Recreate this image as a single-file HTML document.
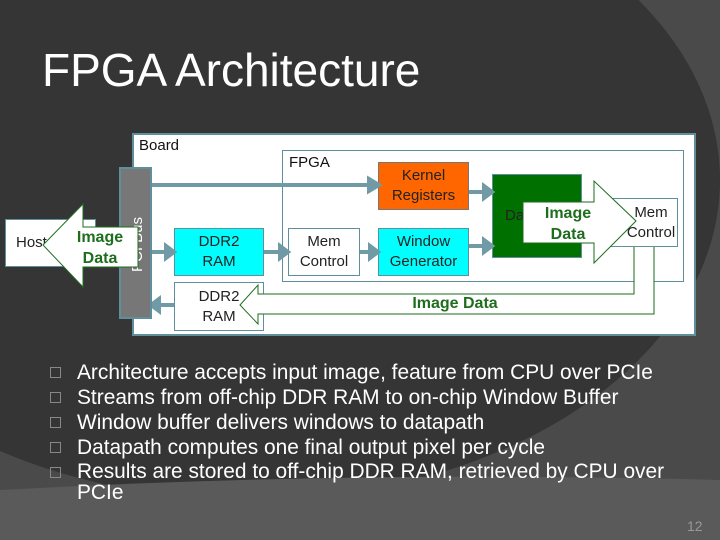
<!DOCTYPE html>
<html><head><style>
body{margin:0;width:720px;height:540px;overflow:hidden;background:#4a4a4a;font-family:"Liberation Sans",sans-serif;position:relative}
.a{position:absolute}
.box{position:absolute;box-sizing:border-box;border:1px solid #5f8f9c;text-align:center;font-size:15px;color:#222;display:flex;align-items:center;justify-content:center;line-height:20px}
.bl{position:absolute;left:77px;font-size:20.9px;color:#fff;white-space:nowrap}
.sq{position:absolute;left:50px;width:9px;height:9px;border:1px solid #888}
</style></head><body>
<svg class="a" style="left:0;top:0" width="720" height="540">
<ellipse cx="250" cy="180" rx="470" ry="320" fill="#353535"/>
<path d="M0 490 Q360 470 720 480 L720 540 L0 540Z" fill="#5a5a5a"/>
</svg>
<div class="a" style="left:42px;top:43px;font-size:46px;color:#fff">FPGA Architecture</div>

<div class="a" style="left:132px;top:133px;width:564px;height:203px;background:#fff;border:2px solid #5f8f9c;box-sizing:border-box"></div>
<div class="a" style="left:139px;top:137px;font-size:15px;color:#111">Board</div>
<div class="a" style="left:282px;top:150px;width:402px;height:132px;border:1px solid #5f8f9c;box-sizing:border-box"></div>
<div class="a" style="left:289px;top:154px;font-size:15px;color:#111">FPGA</div>

<div class="box" style="left:5px;top:219px;width:91px;height:48px;background:#fff;justify-content:flex-start;padding-left:10px;font-size:15px">Host</div>

<div class="box" style="left:174px;top:228px;width:90px;height:48px;background:#00ffff">DDR2<br>RAM</div>
<div class="box" style="left:174px;top:282px;width:90px;height:49px;background:#fff">DDR2<br>RAM</div>
<div class="box" style="left:288px;top:228px;width:72px;height:48px;background:#fff">Mem<br>Control</div>
<div class="box" style="left:378px;top:228px;width:91px;height:48px;background:#00ffff">Window<br>Generator</div>
<div class="box" style="left:378px;top:162px;width:91px;height:48px;background:#ff6600;border-color:#777">Kernel<br>Registers</div>
<div class="box" style="left:492px;top:174px;width:90px;height:84px;background:#007000;justify-content:flex-start;padding-left:12px;font-size:15px">Datapath</div>
<div class="box" style="left:610px;top:198px;width:68px;height:49px;background:#fff;padding-left:14px">Mem<br>Control</div>

<svg class="a" style="left:0;top:0" width="720" height="540">
<g stroke="#6f9aa6" stroke-width="4" fill="#6f9aa6">
<line x1="151" y1="185" x2="372" y2="185"/><path d="M369 179 L379 185 L369 191Z"/>
<line x1="469" y1="192" x2="486" y2="192"/><path d="M484 186 L492 192 L484 198Z"/>
<line x1="469" y1="246" x2="486" y2="246"/><path d="M484 240 L492 246 L484 252Z"/>
<line x1="151" y1="252" x2="168" y2="252"/><path d="M166 246 L174 252 L166 258Z"/>
<line x1="264" y1="252" x2="282" y2="252"/><path d="M280 246 L288 252 L280 258Z"/>
<line x1="360" y1="252" x2="372" y2="252"/><path d="M370 246 L378 252 L370 258Z"/>
<line x1="174" y1="305" x2="157" y2="305"/><path d="M159 299 L151 305 L159 311Z"/>
</g>
<path d="M654 247 L654 314 L258 314 L258 324 L240 305 L258 285 L258 294 L634 294 L634 247" fill="#fff" stroke="#1e6e1e" stroke-width="1"/>
<rect x="120" y="168" width="31" height="150" fill="#777" stroke="#5f8f9c" stroke-width="2"/>
<text transform="translate(142,272) rotate(-90)" fill="#fff" font-size="15" font-family="Liberation Sans">PCI Bus</text>
<path d="M138 227 L83 227 L83 204 L43 245 L83 287 L83 267 L138 267Z" fill="#fff" stroke="#1e6e1e"/>
<path d="M523 202 L594 202 L594 181 L636 221 L594 263 L594 243 L523 243Z" fill="#fff" stroke="#1e6e1e"/>
<g fill="#1e6e1e" font-weight="bold" font-size="16" font-family="Liberation Sans" text-anchor="middle">
<text x="100" y="242">Image</text><text x="100" y="263">Data</text>
<text x="568" y="218">Image</text><text x="568" y="239">Data</text>
<text x="455" y="308">Image Data</text>
</g>
</svg>

<div class="sq" style="top:367px"></div><div class="bl" style="top:361px">Architecture accepts input image, feature from CPU over PCIe</div>
<div class="sq" style="top:392px"></div><div class="bl" style="top:386px">Streams from off-chip DDR RAM to on-chip Window Buffer</div>
<div class="sq" style="top:417px"></div><div class="bl" style="top:411px">Window buffer delivers windows to datapath</div>
<div class="sq" style="top:442px"></div><div class="bl" style="top:436px">Datapath computes one final output pixel per cycle</div>
<div class="sq" style="top:467px"></div><div class="bl" style="top:461px;line-height:21px">Results are stored to off-chip DDR RAM, retrieved by CPU over<br>PCIe</div>
<div class="a" style="left:687px;top:518px;font-size:14px;color:#999">12</div>
</body></html>
